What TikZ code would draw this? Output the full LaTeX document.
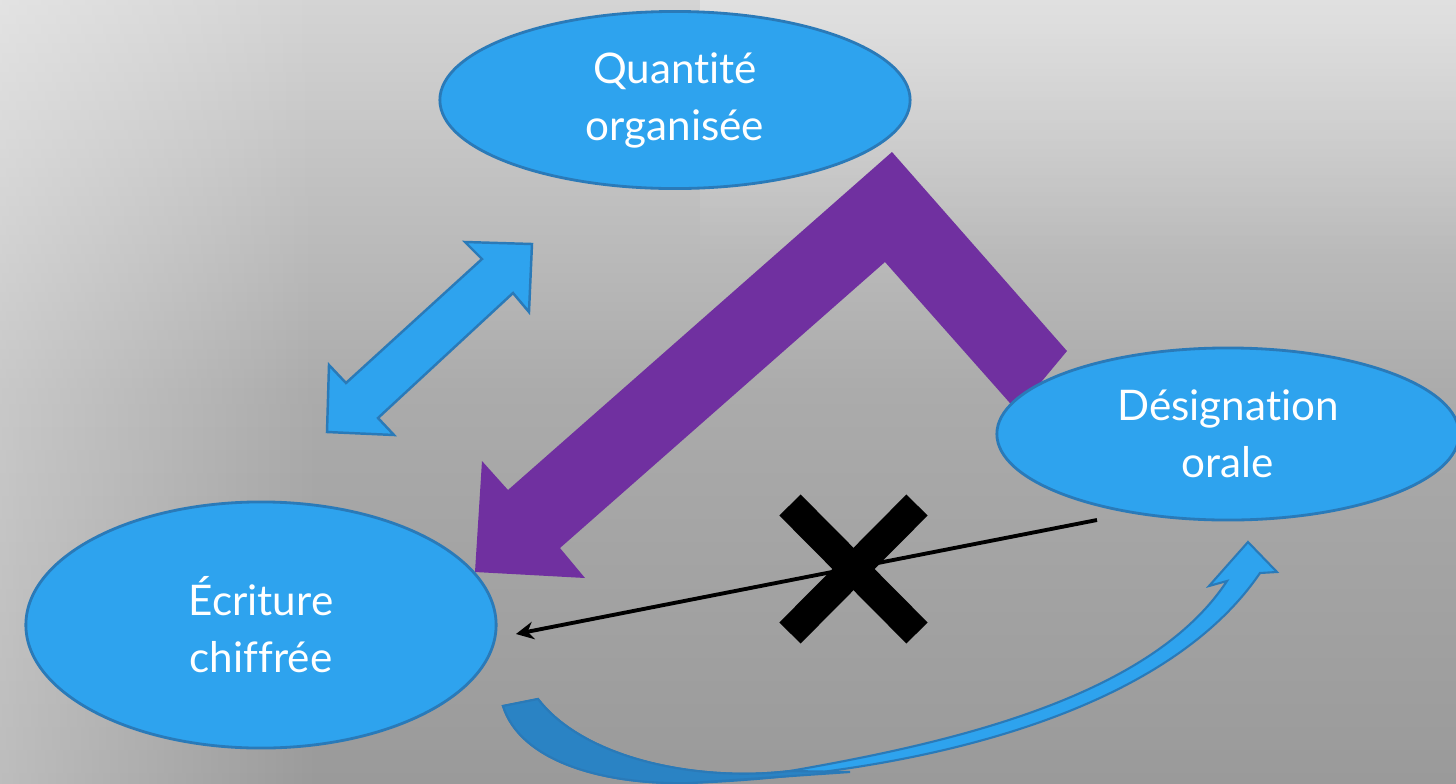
\documentclass[tikz,border=0pt]{standalone}
\usepackage{fontspec}
\setmainfont{Lato}[Ligatures=NoCommon]
\usepackage{tikz}
\usetikzlibrary{arrows.meta,positioning,shapes.geometric,fadings}

\definecolor{bubble}{HTML}{2EA3EE}
\definecolor{bubbleline}{HTML}{2A7AB8}
\definecolor{bubbleback}{HTML}{2A83C4}
\definecolor{bigarrow}{HTML}{7030A0}
\definecolor{bgtop}{HTML}{D4D4D4}
\definecolor{bgmid}{HTML}{ABABAB}
\definecolor{bgbot}{HTML}{9A9A9A}

\tikzfading[name=fade right, left color=transparent!0, right color=transparent!100]
\tikzfading[name=fade down, top color=transparent!0, bottom color=transparent!100]

\begin{document}
\begin{tikzpicture}[x=0.01cm, y=-0.01cm,
  bubble/.style={ellipse, draw=bubbleline, line width=0.8pt, fill=bubble, text=white,
    align=center, inner sep=0pt, font=\fontsize{12}{16.2}\selectfont},
  blockarrow/.style={draw=bubbleline, line width=0.7pt, fill=bubble, line join=miter}]
\useasboundingbox (0,0) rectangle (1456,784);

\shade[top color=bgtop, bottom color=bgbot, middle color=bgmid] (0,0) rectangle (1456,784);
\fill[white, opacity=0.35, path fading=fade right] (0,0) rectangle (320,784);
\fill[white, opacity=0.3, path fading=fade down] (700,0) rectangle (1456,260);

% two-way arrow
\draw[blockarrow] (482,259) -- (465,242) -- (532,244) -- (529,312) -- (513,293)
  -- (378,418) -- (394,435) -- (327,432) -- (329,365) -- (346,383) -- cycle;

% bent arrow
\fill[bigarrow] (892,152) -- (1067,351) -- (1017,411) -- (885,262) -- (560,548)
  -- (585,578) -- (475,572) -- (482,461) -- (508,490) -- cycle;

% curved arrow
\draw[blockarrow, line width=0.6pt] (503,706) .. controls (520,760) and (600,785) .. (690,783)
  .. controls (900,775) and (1160,720) .. (1260,573)
  -- (1277,572) -- (1248,542) -- (1209,586) -- (1227,581)
  .. controls (1150,698) and (950,743) .. (790,771)
  .. controls (700,782) and (585,760) .. (538,699) -- cycle;
\draw[blockarrow, line width=0.6pt, fill=bubbleback] (503,706) .. controls (520,760) and (600,785) .. (690,783)
  -- (850,772) -- (790,771) .. controls (700,782) and (585,760) .. (538,699) -- cycle;

\node[bubble, minimum width=4.7cm, minimum height=1.77cm] (q_org) at (675,100) {Quantité\\organisée};
\node[bubble, minimum width=4.62cm, minimum height=1.72cm] (d_oral) at (1228,434) {Désignation\\orale};
\node[bubble, minimum width=4.7cm, minimum height=2.46cm] (e_chif) at (261,625) {Écriture\\chiffrée};

\coordinate (no_from) at (1097,520);
\coordinate (no_to) at (516,634);
\draw[line width=1.1pt, -{Stealth[length=5pt, width=5pt]}] (no_from) -- (no_to);

% cross
\draw[line width=8.5pt] (790,505) -- (917,633);
\draw[line width=8.5pt] (917,505) -- (790,633);
\end{tikzpicture}
\end{document}
